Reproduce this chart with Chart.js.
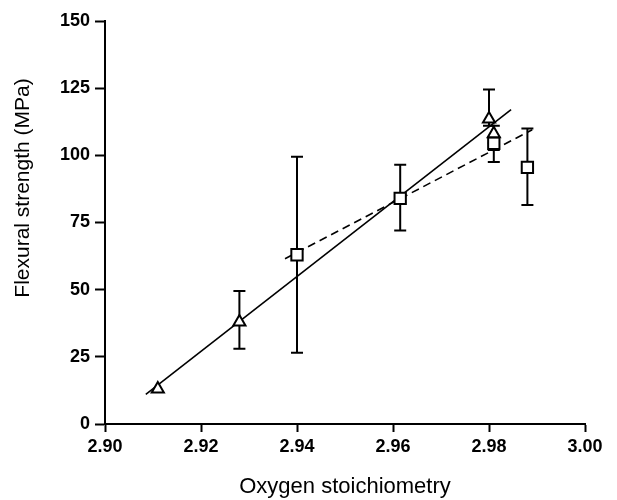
<!DOCTYPE html>
<html>
<head>
<meta charset="utf-8">
<script src="https://cdn.jsdelivr.net/npm/chart.js@4/dist/chart.umd.min.js"></script>
<style>
  html, body { margin: 0; padding: 0; background: #fff; }
  #wrap { width: 617px; height: 500px; }
</style>
</head>
<body>
<div id="wrap"><canvas id="strengthChart" width="617" height="500"></canvas></div>
<script>
// Triangles: oxygen stoichiometry vs flexural strength
const triX = [2.911, 2.928, 2.980, 2.981];
const triY = [13, 38, 113.5, 108];
const triLow = [13, 28, 111, 102];
const triHigh = [13, 49.5, 124.5, 111];

// Squares
const sqX = [2.940, 2.9615, 2.981, 2.988];
const sqY = [63, 84, 104.5, 95.5];
const sqLow = [26.5, 72, 97.5, 81.5];
const sqHigh = [99.5, 96.5, 104.5, 110];

// Fit lines (end points)
const solidX = [2.9085, 2.9846];
const solidY = [11, 117];
const dashX = [2.9375, 2.989];
const dashY = [61.5, 109.5];

// Tick labels
const xTicks = [2.90, 2.92, 2.94, 2.96, 2.98, 3.00];
const yTicks = [0, 25, 50, 75, 100, 125, 150];

const yTitle = 'Flexural strength (MPa)';
const xTitle = 'Oxygen stoichiometry';

const toPoints = (xs, ys) => xs.map((v, i) => ({ x: v, y: ys[i] }));
const fontFamily = '"Liberation Sans", Arial, Helvetica, sans-serif';

// error bars drawn under the markers
const errorBars = {
    id: 'errorBars',
    beforeDatasetsDraw(chart) {
        const { ctx, scales: { x, y } } = chart;
        ctx.save();
        ctx.strokeStyle = '#000';
        ctx.lineWidth = 2;
        const cap = 6;
        const drawSet = (xs, lows, highs) => {
            xs.forEach((v, i) => {
                if (lows[i] === highs[i]) return;
                const px = x.getPixelForValue(v);
                const top = y.getPixelForValue(highs[i]);
                const bot = y.getPixelForValue(lows[i]);
                ctx.beginPath();
                ctx.moveTo(px, top);
                ctx.lineTo(px, bot);
                ctx.moveTo(px - cap, top);
                ctx.lineTo(px + cap, top);
                ctx.moveTo(px - cap, bot);
                ctx.lineTo(px + cap, bot);
                ctx.stroke();
            });
        };
        drawSet(triX, triLow, triHigh);
        drawSet(sqX, sqLow, sqHigh);
        ctx.restore();
    }
};

// y title sits a bit above the axis middle in the original
const yTitlePlugin = {
    id: 'yTitlePlugin',
    afterDraw(chart) {
        const ctx = chart.ctx;
        ctx.save();
        ctx.translate(23, 188);
        ctx.rotate(-Math.PI / 2);
        ctx.font = '21px ' + fontFamily;
        ctx.fillStyle = '#000';
        ctx.textAlign = 'center';
        ctx.textBaseline = 'middle';
        ctx.fillText(yTitle, 0, 0);
        ctx.restore();
    }
};

new Chart(document.getElementById('strengthChart').getContext('2d'), {
    type: 'scatter',
    data: {
        datasets: [
            {
                label: 'triangles',
                data: toPoints(triX, triY),
                pointStyle: 'triangle',
                pointRadius: 7,
                pointBorderWidth: 2,
                pointBackgroundColor: '#fff',
                pointBorderColor: '#000',
                order: 0
            },
            {
                label: 'squares',
                data: toPoints(sqX, sqY),
                pointStyle: 'rect',
                pointRadius: 8,
                pointBorderWidth: 2,
                pointBackgroundColor: '#fff',
                pointBorderColor: '#000',
                order: 0
            },
            {
                label: 'fit solid',
                data: toPoints(solidX, solidY),
                showLine: true,
                pointRadius: 0,
                borderColor: '#000',
                borderWidth: 1.6,
                order: 2
            },
            {
                label: 'fit dashed',
                data: toPoints(dashX, dashY),
                showLine: true,
                pointRadius: 0,
                borderColor: '#000',
                borderWidth: 1.6,
                borderDash: [8, 5],
                order: 2
            }
        ]
    },
    options: {
        responsive: false,
        animation: false,
        layout: { padding: { left: 45, right: 32, top: 21, bottom: 0 } },
        plugins: {
            legend: { display: false },
            tooltip: { enabled: false }
        },
        scales: {
            x: {
                type: 'linear',
                min: 2.90,
                max: 3.00,
                afterBuildTicks: (scale) => { scale.ticks = xTicks.map(v => ({ value: v })); },
                afterFit: (scale) => { scale.height = 76; },
                border: { color: '#000', width: 2 },
                grid: { drawOnChartArea: false, tickLength: 8, tickWidth: 2, tickColor: '#000' },
                ticks: {
                    color: '#000',
                    padding: 4,
                    font: { family: fontFamily, size: 18, weight: 'bold' },
                    callback: (v) => Number(v).toFixed(2)
                },
                title: {
                    display: true,
                    text: xTitle,
                    color: '#000',
                    padding: { top: 0, bottom: 0 },
                    font: { family: fontFamily, size: 22 }
                }
            },
            y: {
                type: 'linear',
                min: 0,
                max: 150,
                afterBuildTicks: (scale) => { scale.ticks = yTicks.map(v => ({ value: v })); },
                afterFit: (scale) => { scale.width = 60; },
                border: { color: '#000', width: 2 },
                grid: { drawOnChartArea: false, tickLength: 10, tickWidth: 2, tickColor: '#000' },
                ticks: {
                    color: '#000',
                    padding: 5,
                    font: { family: fontFamily, size: 18, weight: 'bold' }
                }
            }
        }
    },
    plugins: [errorBars, yTitlePlugin]
});
</script>
</body>
</html>
